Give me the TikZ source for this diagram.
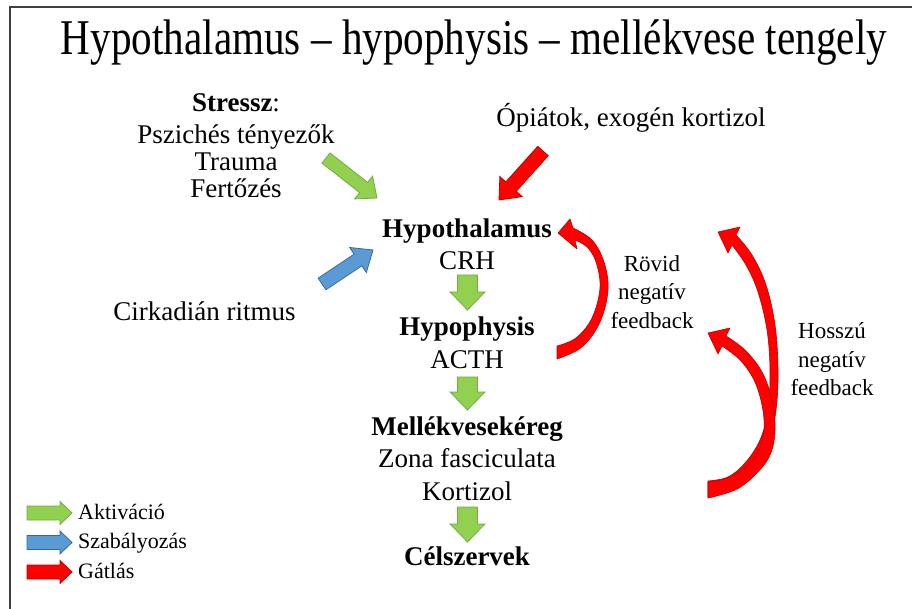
\documentclass[tikz,border=0pt]{standalone}
\usepackage{fontspec}
\setmainfont{Liberation Serif}
\usetikzlibrary{calc}
\definecolor{grn}{RGB}{146,208,80}
\definecolor{grnd}{RGB}{112,173,71}
\definecolor{blu}{RGB}{91,155,213}
\definecolor{blud}{RGB}{52,105,160}
\definecolor{rd}{RGB}{255,0,0}
\definecolor{rdd}{RGB}{192,0,0}
\definecolor{framec}{RGB}{64,64,64}
% block arrow: #1 tail, #2 tip, #3 shaft half width, #4 head half width, #5 head length, #6 style
\newcommand\blockarrow[6]{%
  \coordinate (hb) at ($(#2)!#5!(#1)$);
  \path[#6] ($(#1)!#3!90:(#2)$) -- ($(hb)!#3!-90:(#1)$) -- ($(hb)!#4!-90:(#1)$) -- (#2)
    -- ($(hb)!#4!90:(#1)$) -- ($(hb)!#3!90:(#1)$) -- ($(#1)!#3!-90:(#2)$) -- cycle;}
\tikzset{
  lbl/.style={inner sep=0pt, anchor=base, font=\fontsize{27}{32}\selectfont},
  lblb/.style={inner sep=0pt, anchor=base, font=\fontsize{27}{32}\selectfont\bfseries},
  fbtext/.style={inner sep=0pt, anchor=base, font=\fontsize{23}{28}\selectfont},
  legtext/.style={inner sep=0pt, anchor=base west, font=\fontsize{22}{26}\selectfont},
  garrow/.style={fill=grn, draw=grnd, line width=0.8pt, line join=miter},
  barrow/.style={fill=blu, draw=blud, line width=0.8pt, line join=miter},
  rarrow/.style={fill=rd, draw=rdd, line width=0.8pt, line join=miter},
  curvedarrow/.style={fill=rd, draw=rdd, line width=0.6pt, line join=round},
}
\begin{document}
\begin{tikzpicture}[x=1pt,y=-1pt]
\useasboundingbox (0,0) rectangle (912,609);
\fill[white] (0,0) rectangle (912,609);
% frame
\draw[framec, line width=1.8pt] (9,7) -- (912,7);
\draw[framec, line width=1.8pt] (10,7) -- (10,609);

% title
\node[inner sep=0pt, anchor=base] (title) at (474,55)
  {\resizebox{826pt}{\height}{\fontsize{50}{60}\selectfont Hypothalamus – hypophysis – mellékvese tengely}};

% stress block
\node[lbl] (stressz) at (236,112) {\textbf{Stressz}:};
\node[lbl] (pszich) at (236,144) {Pszichés tényezők};
\node[lbl] (trauma) at (236,171) {Trauma};
\node[lbl] (fert) at (236,198) {Fertőzés};

% opiates
\node[lbl] (opiat) at (631,127) {Ópiátok, exogén kortizol};

% circadian
\node[lbl] (cirk) at (204.5,320) {Cirkadián ritmus};

% main column
\node[lblb] (hypoth) at (467,238) {Hypothalamus};
\node[lbl] (crh) at (467,270) {CRH};
\node[lblb] (hypoph) at (467,335) {Hypophysis};
\node[lbl] (acth) at (467,368) {ACTH};
\node[lblb] (mellek) at (467,435) {Mellékvesekéreg};
\node[lbl] (zona) at (467,467) {Zona fasciculata};
\node[lbl] (kort) at (467,500) {Kortizol};
\node[lblb] (cel) at (467,565) {Célszervek};

% feedback labels
\node[fbtext] (rov1) at (652,272) {Rövid};
\node[fbtext] (rov2) at (652,300) {negatív};
\node[fbtext] (rov3) at (652,328) {feedback};
\node[fbtext] (hos1) at (832,338) {Hosszú};
\node[fbtext] (hos2) at (832,367) {negatív};
\node[fbtext] (hos3) at (832,395) {feedback};

% straight arrows
\coordinate (gsT) at (326,158); \coordinate (gsH) at (377,198);
\blockarrow{gsT}{gsH}{6.5pt}{14.5pt}{17pt}{garrow}
\coordinate (roT) at (543,151); \coordinate (roH) at (499,200);
\blockarrow{roT}{roH}{7pt}{15pt}{18pt}{rarrow}
\coordinate (bcT) at (322,284); \coordinate (bcH) at (373,250);
\blockarrow{bcT}{bcH}{7pt}{15pt}{18pt}{barrow}

\coordinate (d1T) at (467.5,275); \coordinate (d1H) at (467.5,310);
\blockarrow{d1T}{d1H}{10pt}{17.5pt}{18pt}{garrow}
\coordinate (d2T) at (467.5,377); \coordinate (d2H) at (467.5,410);
\blockarrow{d2T}{d2H}{10pt}{17.5pt}{18pt}{garrow}
\coordinate (d3T) at (467.5,507); \coordinate (d3H) at (467.5,542);
\blockarrow{d3T}{d3H}{10pt}{17.5pt}{18pt}{garrow}

% curved arrows
% short negative feedback
\path[curvedarrow]
  plot[smooth, tension=0.6] coordinates {(573,228) (592,240) (604,262) (608,290) (600,322) (582,347) (557,359)}
  -- plot[smooth, tension=0.6] coordinates {(557,346) (576,338) (592,318) (600,288) (596,262) (587,247) (575,240)}
  -- (577,249) -- (558,233) -- (570,219) -- cycle;
% long negative feedback, upper arrow
\path[curvedarrow]
  plot[smooth, tension=0.6] coordinates {(736,235) (752,255) (766,285) (775,325) (778,370) (776,410) (768,445) (750,472) (730,487) (708,497)}
  -- plot[smooth, tension=0.6] coordinates {(708,481) (728,477) (745,463) (760,440) (768,410) (770,370) (767,330) (758,292) (746,265) (732,245)}
  -- (728,253) -- (718,232) -- (740,227) -- cycle;
% long negative feedback, lower arrow
\path[curvedarrow]
  plot[smooth, tension=0.6] coordinates {(726,336) (745,350) (762,372) (772,400) (775,430) (770,455) (755,475) (735,490) (708,498)}
  -- plot[smooth, tension=0.6] coordinates {(708,482) (728,478) (745,468) (758,452) (764,430) (762,405) (754,380) (740,360) (722,346)}
  -- (718,354) -- (708,333) -- (730,328) -- cycle;

% legend
\coordinate (l1T) at (27,513); \coordinate (l1H) at (72,513);
\blockarrow{l1T}{l1H}{7pt}{11.5pt}{12pt}{garrow}
\coordinate (l2T) at (27,542.5); \coordinate (l2H) at (72,542.5);
\blockarrow{l2T}{l2H}{7pt}{11.5pt}{12pt}{barrow}
\coordinate (l3T) at (27,572); \coordinate (l3H) at (72,572);
\blockarrow{l3T}{l3H}{7pt}{11.5pt}{12pt}{rarrow}
\node[legtext] (akt) at (78,519) {Aktiváció};
\node[legtext] (szab) at (78,548) {Szabályozás};
\node[legtext] (gat) at (78,578) {Gátlás};
\end{tikzpicture}
\end{document}
